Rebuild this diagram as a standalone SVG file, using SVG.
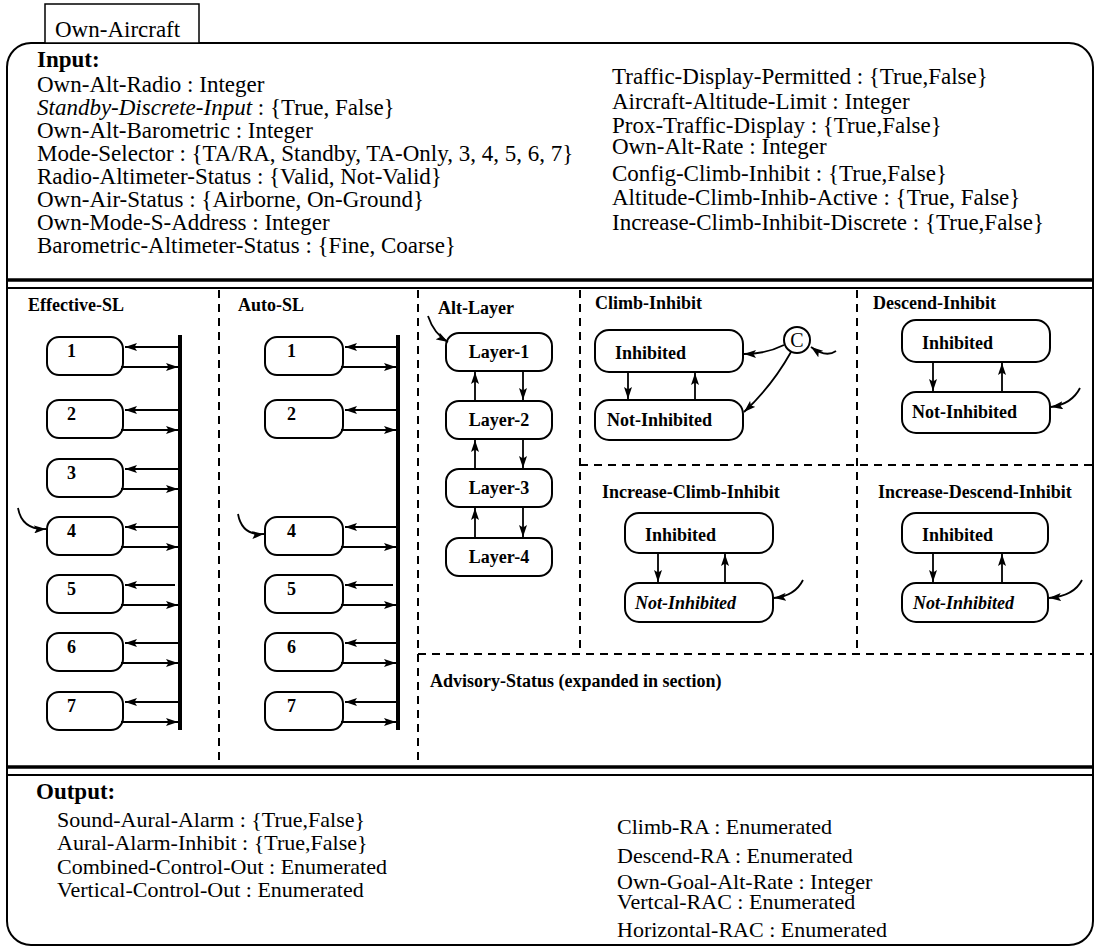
<svg xmlns="http://www.w3.org/2000/svg" width="1096" height="950" viewBox="0 0 1096 950">
<style>
text{font-family:"Liberation Serif","Times New Roman",serif;fill:#000}
.io{font-size:23px}
.out{font-size:22px}
.hd{font-size:23px;font-weight:bold}
.sec{font-size:18px;font-weight:bold}
.st{font-size:18px;font-weight:bold}
.node{fill:#fff;stroke:#000;stroke-width:2}
.c{fill:none;stroke:#000;stroke-width:1.8}
.dash{fill:none;stroke:#000;stroke-width:2;stroke-dasharray:8 6}
.bar{stroke:#000;stroke-width:4}
</style>
<defs>
<marker id="ah" viewBox="0 0 12 8" refX="12" refY="4" markerWidth="12" markerHeight="8" orient="auto" markerUnits="userSpaceOnUse">
<path d="M0,0 L12,4 L0,8 L2.5,4 z" fill="#000"/>
</marker>
</defs>

<g id="own-aircraft">
<rect x="7" y="43" width="1086" height="902" rx="24" ry="24" fill="#fff" stroke="#000" stroke-width="2"/>
<rect x="45" y="4" width="154" height="39" fill="#fff" stroke="#000" stroke-width="1.5"/>
<text class="io" x="55" y="37">Own-Aircraft</text>
<line x1="7" y1="280" x2="1093" y2="280" stroke="#000" stroke-width="3.5"/>
<line x1="7" y1="288" x2="1093" y2="288" stroke="#000" stroke-width="2"/>
<line x1="7" y1="767" x2="1093" y2="767" stroke="#000" stroke-width="3.5"/>
<line x1="7" y1="775" x2="1093" y2="775" stroke="#000" stroke-width="2"/>
</g>

<g id="inputs">
<text class="hd" x="37" y="67">Input:</text>
<text class="io" x="37" y="92">Own-Alt-Radio : Integer</text>
<text class="io" x="37" y="115"><tspan font-style="italic">Standby-Discrete-Input</tspan> : {True, False}</text>
<text class="io" x="37" y="138">Own-Alt-Barometric : Integer</text>
<text class="io" x="37" y="161">Mode-Selector : {TA/RA, Standby, TA-Only, 3, 4, 5, 6, 7}</text>
<text class="io" x="37" y="184">Radio-Altimeter-Status : {Valid, Not-Valid}</text>
<text class="io" x="37" y="207">Own-Air-Status : {Airborne, On-Ground}</text>
<text class="io" x="37" y="230">Own-Mode-S-Address : Integer</text>
<text class="io" x="37" y="253">Barometric-Altimeter-Status : {Fine, Coarse}</text>
<text class="io" x="612" y="84">Traffic-Display-Permitted : {True,False}</text>
<text class="io" x="612" y="109">Aircraft-Altitude-Limit : Integer</text>
<text class="io" x="612" y="133">Prox-Traffic-Display : {True,False}</text>
<text class="io" x="612" y="154">Own-Alt-Rate : Integer</text>
<text class="io" x="612" y="181">Config-Climb-Inhibit : {True,False}</text>
<text class="io" x="612" y="205">Altitude-Climb-Inhib-Active : {True, False}</text>
<text class="io" x="612" y="230">Increase-Climb-Inhibit-Discrete : {True,False}</text>
</g>

<g id="outputs">
<text class="hd" x="36" y="799">Output:</text>
<text class="out" x="57" y="827">Sound-Aural-Alarm : {True,False}</text>
<text class="out" x="57" y="850">Aural-Alarm-Inhibit : {True,False}</text>
<text class="out" x="57" y="874">Combined-Control-Out : Enumerated</text>
<text class="out" x="57" y="897">Vertical-Control-Out : Enumerated</text>
<text class="out" x="617" y="834">Climb-RA : Enumerated</text>
<text class="out" x="617" y="863">Descend-RA : Enumerated</text>
<text class="out" x="617" y="889">Own-Goal-Alt-Rate : Integer</text>
<text class="out" x="617" y="909">Vertcal-RAC : Enumerated</text>
<text class="out" x="617" y="937">Horizontal-RAC : Enumerated</text>
</g>

<g id="regions">
<line class="dash" x1="219" y1="290" x2="219" y2="765"/>
<line class="dash" x1="418" y1="290" x2="418" y2="765"/>
<line class="dash" x1="580" y1="290" x2="580" y2="654"/>
<line class="dash" x1="857" y1="290" x2="857" y2="654"/>
<line class="dash" x1="580" y1="465" x2="1093" y2="465"/>
<line class="dash" x1="418" y1="654" x2="1093" y2="654"/>
<text class="sec" x="28" y="311">Effective-SL</text>
<text class="sec" x="238" y="311">Auto-SL</text>
<text class="sec" x="438" y="314">Alt-Layer</text>
<text class="sec" x="595" y="309">Climb-Inhibit</text>
<text class="sec" x="873" y="309">Descend-Inhibit</text>
<text class="sec" x="602" y="498">Increase-Climb-Inhibit</text>
<text class="sec" x="878" y="498">Increase-Descend-Inhibit</text>
<text class="sec" x="430" y="687">Advisory-Status (expanded in section)</text>
<line class="bar" x1="180" y1="335" x2="180" y2="730"/>
<line class="bar" x1="398" y1="335" x2="398" y2="730"/>
</g>

<g id="esl-1"><rect class="node" x="47" y="337" width="76" height="38" rx="12"/><text class="st" x="67" y="357">1</text></g>
<g id="esl-2"><rect class="node" x="47" y="400" width="76" height="38" rx="12"/><text class="st" x="67" y="420">2</text></g>
<g id="esl-3"><rect class="node" x="47" y="459" width="76" height="38" rx="12"/><text class="st" x="67" y="479">3</text></g>
<g id="esl-4"><rect class="node" x="47" y="517" width="76" height="38" rx="12"/><text class="st" x="67" y="537">4</text></g>
<g id="esl-5"><rect class="node" x="47" y="575" width="76" height="38" rx="12"/><text class="st" x="67" y="595">5</text></g>
<g id="esl-6"><rect class="node" x="47" y="633" width="76" height="38" rx="12"/><text class="st" x="67" y="653">6</text></g>
<g id="esl-7"><rect class="node" x="47" y="692" width="76" height="38" rx="12"/><text class="st" x="67" y="712">7</text></g>

<g id="asl-1"><rect class="node" x="265" y="337" width="78" height="38" rx="12"/><text class="st" x="287" y="357">1</text></g>
<g id="asl-2"><rect class="node" x="265" y="400" width="78" height="38" rx="12"/><text class="st" x="287" y="420">2</text></g>
<g id="asl-4"><rect class="node" x="265" y="517" width="78" height="38" rx="12"/><text class="st" x="287" y="537">4</text></g>
<g id="asl-5"><rect class="node" x="265" y="575" width="78" height="38" rx="12"/><text class="st" x="287" y="595">5</text></g>
<g id="asl-6"><rect class="node" x="265" y="633" width="78" height="38" rx="12"/><text class="st" x="287" y="653">6</text></g>
<g id="asl-7"><rect class="node" x="265" y="692" width="78" height="38" rx="12"/><text class="st" x="287" y="712">7</text></g>

<g id="layer-1"><rect class="node" x="446" y="333" width="106" height="38" rx="13"/><text class="st" x="499" y="358" text-anchor="middle">Layer-1</text></g>
<g id="layer-2"><rect class="node" x="446" y="401" width="106" height="38" rx="13"/><text class="st" x="499" y="426" text-anchor="middle">Layer-2</text></g>
<g id="layer-3"><rect class="node" x="446" y="469" width="106" height="38" rx="13"/><text class="st" x="499" y="494" text-anchor="middle">Layer-3</text></g>
<g id="layer-4"><rect class="node" x="446" y="538" width="106" height="38" rx="13"/><text class="st" x="499" y="563" text-anchor="middle">Layer-4</text></g>

<g id="ci-inhibited"><rect class="node" x="595" y="330" width="148" height="42" rx="14"/><text class="st" x="615" y="359">Inhibited</text></g>
<g id="ci-not-inhibited"><rect class="node" x="595" y="400" width="148" height="40" rx="14"/><text class="st" x="607" y="426">Not-Inhibited</text></g>
<g id="ci-c"><circle cx="797" cy="340" r="13" fill="#fff" stroke="#000" stroke-width="2"/><text x="797" y="347" text-anchor="middle" font-size="20">C</text></g>

<g id="di-inhibited"><rect class="node" x="902" y="320" width="148" height="42" rx="14"/><text class="st" x="922" y="349">Inhibited</text></g>
<g id="di-not-inhibited"><rect class="node" x="902" y="392" width="148" height="41" rx="14"/><text class="st" x="912" y="418">Not-Inhibited</text></g>

<g id="ici-inhibited"><rect class="node" x="625" y="513" width="148" height="40" rx="14"/><text class="st" x="645" y="541">Inhibited</text></g>
<g id="ici-not-inhibited"><rect class="node" x="625" y="583" width="148" height="39" rx="14"/><text class="st" x="635" y="609" font-style="italic">Not-Inhibited</text></g>

<g id="idi-inhibited"><rect class="node" x="902" y="513" width="146" height="40" rx="14"/><text class="st" x="922" y="541">Inhibited</text></g>
<g id="idi-not-inhibited"><rect class="node" x="902" y="583" width="146" height="39" rx="14"/><text class="st" x="913" y="609" font-style="italic">Not-Inhibited</text></g>

<g id="connectors">
<path class="c" marker-end="url(#ah)" d="M178,347 H125"/><path class="c" marker-end="url(#ah)" d="M121,367 H178"/>
<path class="c" marker-end="url(#ah)" d="M178,410 H125"/><path class="c" marker-end="url(#ah)" d="M121,430 H178"/>
<path class="c" marker-end="url(#ah)" d="M178,469 H125"/><path class="c" marker-end="url(#ah)" d="M121,489 H178"/>
<path class="c" marker-end="url(#ah)" d="M178,527 H125"/><path class="c" marker-end="url(#ah)" d="M121,547 H178"/>
<path class="c" marker-end="url(#ah)" d="M175,585 H125"/><path class="c" marker-end="url(#ah)" d="M121,605 H178"/>
<path class="c" marker-end="url(#ah)" d="M178,643 H125"/><path class="c" marker-end="url(#ah)" d="M121,663 H178"/>
<path class="c" marker-end="url(#ah)" d="M178,702 H125"/><path class="c" marker-end="url(#ah)" d="M121,722 H178"/>
<path class="c" marker-end="url(#ah)" d="M18,508 Q22,530 46,529"/>
<path class="c" marker-end="url(#ah)" d="M396,347 H345"/><path class="c" marker-end="url(#ah)" d="M341,367 H396"/>
<path class="c" marker-end="url(#ah)" d="M396,410 H345"/><path class="c" marker-end="url(#ah)" d="M341,430 H396"/>
<path class="c" marker-end="url(#ah)" d="M396,527 H345"/><path class="c" marker-end="url(#ah)" d="M341,547 H396"/>
<path class="c" marker-end="url(#ah)" d="M393,585 H345"/><path class="c" marker-end="url(#ah)" d="M341,605 H396"/>
<path class="c" marker-end="url(#ah)" d="M396,643 H345"/><path class="c" marker-end="url(#ah)" d="M341,663 H396"/>
<path class="c" marker-end="url(#ah)" d="M396,702 H345"/><path class="c" marker-end="url(#ah)" d="M341,722 H396"/>
<path class="c" marker-end="url(#ah)" d="M238,514 Q242,536 264,534"/>
<path class="c" marker-end="url(#ah)" d="M428,316 Q434,334 448,342"/>
<path class="c" marker-end="url(#ah)" d="M475,401 V372"/><path class="c" marker-end="url(#ah)" d="M523,371 V400"/>
<path class="c" marker-end="url(#ah)" d="M475,469 V440"/><path class="c" marker-end="url(#ah)" d="M523,439 V468"/>
<path class="c" marker-end="url(#ah)" d="M475,538 V508"/><path class="c" marker-end="url(#ah)" d="M523,507 V537"/>
<path class="c" marker-end="url(#ah)" d="M628,372 V399"/><path class="c" marker-end="url(#ah)" d="M695,400 V373"/>
<path class="c" marker-end="url(#ah)" d="M784,345 Q766,354 744,354"/>
<path class="c" marker-end="url(#ah)" d="M791,352 Q772,386 744,412"/>
<path class="c" marker-end="url(#ah)" d="M836,351 Q826,358 811,347"/>
<path class="c" marker-end="url(#ah)" d="M933,362 V391"/><path class="c" marker-end="url(#ah)" d="M1002,392 V363"/>
<path class="c" marker-end="url(#ah)" d="M1080,388 Q1072,404 1051,407"/>
<path class="c" marker-end="url(#ah)" d="M658,553 V582"/><path class="c" marker-end="url(#ah)" d="M725,583 V554"/>
<path class="c" marker-end="url(#ah)" d="M803,580 Q795,596 774,598"/>
<path class="c" marker-end="url(#ah)" d="M933,553 V582"/><path class="c" marker-end="url(#ah)" d="M1002,583 V554"/>
<path class="c" marker-end="url(#ah)" d="M1082,580 Q1074,596 1049,598"/>
</g>
</svg>
